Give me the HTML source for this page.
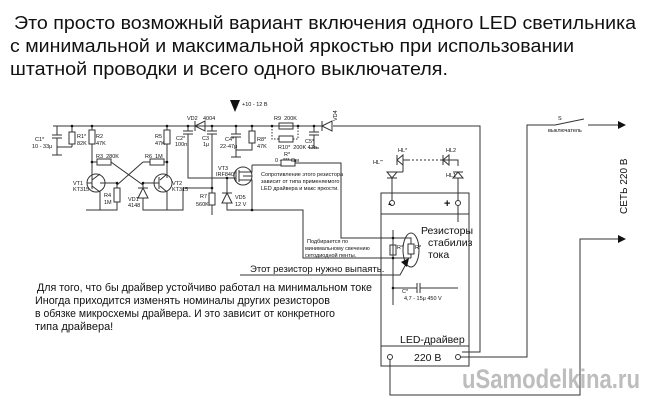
<!DOCTYPE html>
<html><head><meta charset="utf-8"><style>
html,body{margin:0;padding:0;background:#fff}
svg{display:block}
text{font-family:"Liberation Sans",sans-serif;fill:#111}
</style></head><body>
<svg width="650" height="405" viewBox="0 0 650 405" xmlns="http://www.w3.org/2000/svg">
<g font-size="18">
<text x="14" y="29" textLength="622" lengthAdjust="spacingAndGlyphs">Это просто возможный вариант включения одного LED светильника</text>
<text x="10" y="52" textLength="564" lengthAdjust="spacingAndGlyphs">с минимальной и максимальной яркостью при использовании</text>
<text x="10" y="75" textLength="438" lengthAdjust="spacingAndGlyphs">штатной проводки и всего одного выключателя.</text>
</g>
<g stroke="#333" stroke-width="1" fill="none">
<path d="M53 126H322M333 126H480V352H462"/>
<path d="M57 126V135M52 135H62M52 138H62M57 138V147H72M57 147V155M52 155H62"/>
<rect x="69" y="132" width="6" height="12"/><path d="M72 126V132M72 144V147"/>
<rect x="89" y="130" width="6" height="14"/><path d="M92 126V130M92 144V183"/>
<rect x="97" y="159" width="14" height="6"/><path d="M92 162H97M111 162L143 185M143 162L117 185"/>
<rect x="150" y="159" width="14" height="6"/><path d="M143 162H150M164 162H167"/>
<rect x="164" y="130" width="6" height="14"/><path d="M167 126V130M167 144V178"/>
<circle cx="96" cy="183" r="9"/><path d="M92 177V189M92 183H87M92 180L100 174M92 186L100 192V210M117 183H105L100 183"/>
<path d="M86 210H100"/>
<rect x="114" y="188" width="6" height="14"/><path d="M117 183V188M117 202V210H100"/>
<circle cx="163" cy="183" r="9"/><path d="M159 177V189M143 183H159M160 180L167 174V162M160 186L167 192V210M160 210H174"/>
<path d="M143 183V188M138 188H148M143 188L138 198H148Z M143 198V210H183V188H212"/>
<path d="M188 126V131M183 131H193M183 134H193M188 134V178H236"/>
<path d="M195 126L205 121V131Z M195 121V131"/>
<path d="M212 126V131M207 131H217M207 134H217M212 134V193M212 205V215"/>
<rect x="209" y="193" width="6" height="12"/>
<path d="M236 126V134M231 134H241M231 137H241M236 137V157M231 157H241"/>
<rect x="249" y="131" width="6" height="12"/><path d="M252 126V131M252 143V150H236"/>
<rect x="279" y="123" width="14" height="6"/>
<rect x="279" y="136" width="14" height="6"/>
<path d="M272 126V139H279M293 139H298V126" stroke-dasharray="1.5 1.5"/>
<path d="M314 126V132M309 132H319M309 135H319M314 135V148M309 148H319"/>
<path d="M322 126L332 121V131Z M322 121V131"/>
<circle cx="243" cy="176" r="9"/><path d="M236 170V182M239 170V182M239 172H252V165M239 180H252V210M243 176H252"/>
<path d="M236 178H227V193M222 193H232M227 193L222 203H232Z M222 203H232M227 203V210H252M246 210H258"/>
<rect x="281" y="160" width="14" height="6"/>
<path d="M252 165H281M295 163H341V238H395M252 210H303V258H395"/>
<rect x="381" y="193" width="88" height="173"/>
<path d="M381 214H469M381 346H469"/>
<circle cx="392" cy="203" r="2.5"/><circle cx="458" cy="203" r="2.5"/>
<path d="M458 206V222"/>
<path d="M393 230V305M393 238V245M393 255V258H411M393 238H411V244M411 254V258"/>
<rect x="390" y="245" width="6" height="10"/><rect x="408" y="244" width="6" height="10"/>
<ellipse cx="411" cy="250" rx="8" ry="17"/>
<path d="M393 288H417M420 288H458M417 283V293M420 283V293"/>
<path d="M392 200V178M387 172H397L392 178Z M387 178H397M392 172H403"/>
<path d="M403 160V172M397 160L403 155V165Z M397 155V165M403 160H408"/>
<path d="M408 160H442" stroke-dasharray="2 2"/>
<path d="M442 160H449M449 155L443 160L449 165Z M443 155V165M449 160H458V166"/>
<path d="M458 200V178M453 178H463L458 172Z M453 172H463"/>
<circle cx="390" cy="357" r="2.5"/><circle cx="458" cy="357" r="2.5"/>
<path d="M390 360V395H580V239H618M461 357H527V125H555M555 125L584 119M588 125H618"/>
<path d="M240 275H400L406 264"/>
</g>
<g fill="#111">
<path d="M230 100H240L235 112Z"/>
<path d="M618 121L626 125L618 129Z M618 235L626 239L618 243Z"/>
<path d="M401 262L409 258L407 267Z"/>
<circle cx="92" cy="162" r="1.3"/><circle cx="167" cy="162" r="1.3"/><circle cx="117" cy="183" r="1.3"/><circle cx="143" cy="183" r="1.3"/>
<circle cx="92" cy="126" r="1.3"/><circle cx="167" cy="126" r="1.3"/><circle cx="188" cy="126" r="1.3"/><circle cx="212" cy="126" r="1.3"/><circle cx="236" cy="126" r="1.3"/><circle cx="252" cy="126" r="1.3"/><circle cx="272" cy="126" r="1.3"/><circle cx="298" cy="126" r="1.3"/><circle cx="314" cy="126" r="1.3"/><circle cx="72" cy="126" r="1.3"/>
<circle cx="212" cy="188" r="1.3"/><circle cx="227" cy="178" r="1.3"/><circle cx="252" cy="210" r="1.3"/><circle cx="393" cy="238" r="1.3"/><circle cx="393" cy="258" r="1.3"/><circle cx="393" cy="288" r="1.3"/>
</g>
<g font-size="5.5">
<text x="35" y="141">C1*</text><text x="32" y="148">10 - 33μ</text>
<text x="77" y="138">R1*</text><text x="77" y="145">82K</text>
<text x="96" y="138">R2</text><text x="96" y="145">47K</text>
<text x="96" y="158">R3 &#160;280K</text><text x="145" y="158">R6 &#160;1M</text>
<text x="155" y="138">R5</text><text x="155" y="145">47K</text>
<text x="73" y="185">VT1</text><text x="73" y="191">KT315</text>
<text x="172" y="185">VT2</text><text x="172" y="191">KT315</text>
<text x="104" y="197">R4</text><text x="104" y="204">1M</text>
<text x="128" y="201">VD1</text><text x="128" y="207">4148</text>
<text x="176" y="140">C2*</text><text x="175" y="146">100п</text>
<text x="202" y="140">C3</text><text x="203" y="146">1μ</text>
<text x="187" y="120">VD2</text><text x="203" y="120">4004</text>
<text x="242" y="106">+10 - 12 В</text>
<text x="225" y="141">C4*</text><text x="220" y="148">22-47μ</text>
<text x="257" y="141">R8*</text><text x="257" y="148">47K</text>
<text x="274" y="120">R9 &#160;200K</text><text x="278" y="149">R10* &#160;200K 47n</text>
<text x="305" y="143">C5*</text>
<text x="218" y="170">VT3</text><text x="216" y="176">IRF840</text>
<text x="235" y="199">VD5</text><text x="235" y="206">12 V</text>
<text x="200" y="198">R7</text><text x="196" y="206">560K</text>
<text x="284" y="156">R*</text><text x="275" y="162">0 - *** Ом</text>
<text x="261" y="176">Сопротивление этого резистора</text>
<text x="261" y="183">зависит от типа применяемого</text>
<text x="261" y="190">LED драйвера и макс яркости.</text>
<text x="307" y="243">Подбирается по</text>
<text x="305" y="250">минимальному свечению</text>
<text x="305" y="257">сетодиодной пенты.</text>
<text x="397" y="249">R*</text><text x="415" y="249">R*</text>
<text x="402" y="293">C*</text><text x="404" y="300">4,7 - 15μ 450 V</text>
<text x="373" y="164">HL'''</text><text x="398" y="152">HL*</text><text x="446" y="152">HL2</text><text x="446" y="177">HL1</text>
<text x="558" y="120">S</text><text x="548" y="132">выключатель</text>
</g>
<g font-size="5.5"><text x="337" y="121" transform="rotate(-90 337 121)">VD4</text></g>
<text x="388" y="207" font-size="11" font-weight="bold">-</text>
<text x="444" y="207" font-size="11" font-weight="bold">+</text>
<g font-size="10.5">
<text x="421" y="234">Резисторы</text><text x="428" y="246">стабилиз</text><text x="428" y="258">тока</text>
<text x="250" y="272" font-size="9.5">Этот резистор нужно выпаять.</text>
<text x="400" y="343">LED-драйвер</text>
<text x="414" y="361">220 В</text>
<text x="627" y="214" transform="rotate(-90 627 214)" font-size="10">СЕТЬ 220 В</text>
</g>
<g font-size="11">
<text x="37" y="291" textLength="335" lengthAdjust="spacingAndGlyphs">Для того, что бы драйвер устойчиво работал на минимальном токе</text>
<text x="35" y="304" textLength="295" lengthAdjust="spacingAndGlyphs">Иногда приходится изменять номиналы других резисторов</text>
<text x="35" y="317" textLength="300" lengthAdjust="spacingAndGlyphs">в обязке микросхемы драйвера. И это зависит от конкретного</text>
<text x="35" y="330">типа драйвера!</text>
</g>
<text x="462" y="388" font-size="27" font-weight="bold" style="fill:#bdbdbd" textLength="178" lengthAdjust="spacingAndGlyphs">uSamodelkina.ru</text>
</svg>
</body></html>
